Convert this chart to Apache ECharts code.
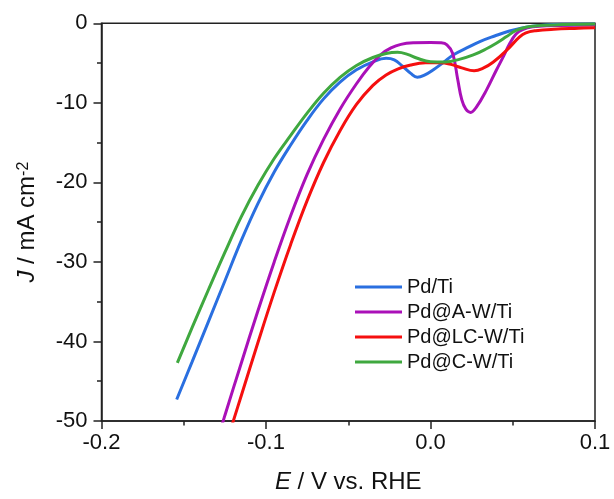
<!DOCTYPE html>
<html>
<head>
<meta charset="utf-8">
<style>html,body{margin:0;padding:0;background:#fff;}#chart{width:614px;height:499px;}</style>
<script src="https://cdn.jsdelivr.net/npm/echarts@6/dist/echarts.min.js"></script>
</head>
<body>
<div id="chart"></div>
<script>
// Series names
var seriesNames = ['Pd/Ti', 'Pd@A-W/Ti', 'Pd@LC-W/Ti', 'Pd@C-W/Ti'];
// E (V vs. RHE), J (mA cm-2) pairs
var pdTi = [
  [-0.1543,-47.3],[-0.145,-42.6],[-0.135,-37.5],[-0.125,-32.4],[-0.115,-27.3],
  [-0.105,-22.7],[-0.095,-18.7],[-0.085,-15.3],[-0.075,-12.2],[-0.065,-9.5],
  [-0.055,-7.4],[-0.045,-5.85],[-0.035,-4.85],[-0.027,-4.4],[-0.022,-4.6],
  [-0.017,-5.4],[-0.012,-6.3],[-0.008,-6.78],[-0.004,-6.55],[0.002,-5.8],
  [0.008,-4.9],[0.014,-3.95],[0.022,-3.1],[0.030,-2.3],[0.039,-1.6],
  [0.048,-0.97],[0.055,-0.62],[0.062,-0.38],[0.070,-0.2],[0.080,-0.12],[0.1,-0.1]
];
var pdAWTi = [
  [-0.1275,-51],[-0.125,-49.3],[-0.115,-42.7],[-0.105,-36.2],[-0.095,-30.0],
  [-0.085,-24.2],[-0.075,-19.0],[-0.065,-14.6],[-0.055,-10.8],[-0.045,-7.6],
  [-0.037,-5.4],[-0.030,-3.9],[-0.024,-3.1],[-0.018,-2.65],[-0.010,-2.45],
  [0.000,-2.4],[0.006,-2.45],[0.010,-2.7],[0.0135,-3.8],[0.0165,-7.0],
  [0.019,-9.6],[0.0215,-10.8],[0.0244,-11.2],[0.028,-10.5],[0.034,-8.4],
  [0.040,-5.9],[0.0445,-4.1],[0.048,-2.6],[0.052,-1.35],[0.056,-0.8],
  [0.062,-0.45],[0.072,-0.3],[0.1,-0.2]
];
var pdLCWTi = [
  [-0.1214,-51],[-0.115,-46.8],[-0.105,-40.2],[-0.095,-33.8],[-0.085,-27.8],
  [-0.075,-22.3],[-0.065,-17.5],[-0.055,-13.5],[-0.045,-10.2],[-0.035,-7.8],
  [-0.027,-6.5],[-0.020,-5.75],[-0.012,-5.25],[-0.003,-4.97],[0.006,-4.95],
  [0.013,-5.2],[0.019,-5.6],[0.0265,-5.98],[0.032,-5.65],[0.038,-4.9],
  [0.046,-3.45],[0.054,-1.75],[0.058,-1.2],[0.064,-0.93],[0.075,-0.75],
  [0.090,-0.63],[0.1,-0.55]
];
var pdCWTi = [
  [-0.1539,-42.7],[-0.145,-38.3],[-0.135,-33.5],[-0.125,-28.8],[-0.115,-24.3],
  [-0.105,-20.4],[-0.095,-17.0],[-0.085,-14.1],[-0.075,-11.3],[-0.065,-8.8],
  [-0.055,-6.8],[-0.045,-5.3],[-0.035,-4.3],[-0.027,-3.8],[-0.020,-3.65],
  [-0.014,-3.9],[-0.008,-4.4],[0.000,-4.82],[0.009,-4.85],[0.018,-4.5],
  [0.026,-3.98],[0.034,-3.2],[0.040,-2.5],[0.046,-1.7],[0.052,-0.9],
  [0.058,-0.5],[0.065,-0.32],[0.075,-0.2],[0.1,-0.1]
];
var seriesData = [pdTi, pdAWTi, pdLCWTi, pdCWTi];
var colors = ['#2a6fe0', '#aa10b8', '#f50f0f', '#3fa83f'];
// axis ticks
var xTicks = {min: -0.2, max: 0.1, interval: 0.1};
var yTicks = {min: -50, max: 0, interval: 10};

var font = 'Liberation Sans, Arial, sans-serif';
var axisCol = '#222';
var chart = echarts.init(document.getElementById('chart'), null, {renderer: 'canvas'});
var option = {
  animation: false,
  backgroundColor: '#fff',
  grid: {left: 101.5, right: 19, top: 23.3, bottom: 77.3, show: true, borderColor: axisCol, borderWidth: 1.5, backgroundColor: 'transparent'},
  legend: {
    data: seriesNames, orient: 'vertical', left: 355, top: 277, itemGap: 5,
    itemWidth: 47, itemHeight: 3, icon: 'rect', padding: 0, itemStyle: {borderWidth: 0},
    textStyle: {fontFamily: font, fontSize: 20, color: '#111', padding: [0, 0, 0, 0]}
  },
  xAxis: {
    type: 'value', min: xTicks.min, max: xTicks.max, interval: xTicks.interval,
    name: '{i|E} / V vs. RHE', nameLocation: 'middle', nameGap: 49,
    nameTextStyle: {fontFamily: font, fontSize: 24, color: '#111', rich: {i: {fontFamily: font, fontSize: 24, fontStyle: 'italic', color: '#111'}}},
    axisLine: {onZero: false, lineStyle: {color: axisCol, width: 1.5}},
    axisTick: {show: true, inside: false, length: 8, lineStyle: {color: axisCol, width: 1.5}},
    minorTick: {show: true, splitNumber: 2, length: 4.5, lineStyle: {color: axisCol, width: 1.5}},
    axisLabel: {fontFamily: font, fontSize: 22, color: '#111', margin: 11, formatter: function (v) { return v.toFixed(1); }},
    splitLine: {show: false}
  },
  yAxis: {
    type: 'value', min: yTicks.min, max: yTicks.max, interval: yTicks.interval,
    name: '{i|J} / mA cm{s|-2}', nameLocation: 'middle', nameGap: 62,
    nameTextStyle: {fontFamily: font, fontSize: 24, color: '#111', rich: {
      i: {fontFamily: font, fontSize: 24, fontStyle: 'italic', color: '#111'},
      s: {fontFamily: font, fontSize: 16, color: '#111', verticalAlign: 'top', lineHeight: 24}
    }},
    axisLine: {onZero: false, lineStyle: {color: axisCol, width: 1.5}},
    axisTick: {show: true, inside: false, length: 8, lineStyle: {color: axisCol, width: 1.5}},
    minorTick: {show: true, splitNumber: 2, length: 4.5, lineStyle: {color: axisCol, width: 1.5}},
    axisLabel: {fontFamily: font, fontSize: 22, color: '#111', margin: 14},
    splitLine: {show: false}
  },
  series: seriesNames.map(function (n, i) {
    return {
      name: n, type: 'line', data: seriesData[i], showSymbol: false, smooth: 0.4,
      lineStyle: {color: colors[i], width: 3}, itemStyle: {color: colors[i]}, clip: true
    };
  })
};
chart.setOption(option);
</script>
</body>
</html>
